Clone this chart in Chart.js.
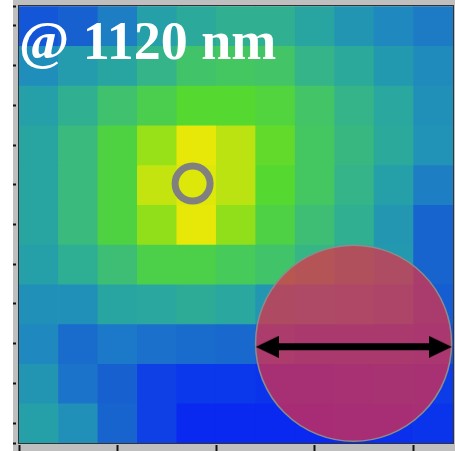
<!DOCTYPE html>
<html><head><meta charset="utf-8">
<script src="https://cdn.jsdelivr.net/npm/chart.js@4/dist/chart.umd.min.js"></script>
<style>
html,body{margin:0;padding:0;background:#fff;}
#wrap{position:absolute;left:13px;top:0;width:442px;height:451px;background:#bfbfbf;}
canvas{display:block;}
</style></head><body>
<div id="wrap"><canvas id="c" width="442" height="451"></canvas></div>
<script>
// ---- data ----
const columnCenters = [0.5, 1.5, 2.5, 3.5, 4.5, 5.5, 6.5, 7.5, 8.5, 9.5, 10.5];
const rowCenters    = [0.5, 1.5, 2.5, 3.5, 4.5, 5.5, 6.5, 7.5, 8.5, 9.5, 10.5];
const intensity = [
  [0.14,0.17,0.25,0.38,0.42,0.45,0.45,0.40,0.33,0.28,0.24],
  [0.30,0.36,0.40,0.47,0.55,0.58,0.56,0.47,0.42,0.35,0.29],
  [0.38,0.45,0.54,0.63,0.70,0.70,0.67,0.56,0.47,0.41,0.31],
  [0.40,0.50,0.66,0.80,1.00,0.88,0.72,0.58,0.49,0.42,0.32],
  [0.40,0.50,0.66,0.90,0.97,0.88,0.70,0.58,0.47,0.38,0.25],
  [0.40,0.50,0.66,0.79,1.00,0.79,0.65,0.52,0.45,0.34,0.18],
  [0.38,0.44,0.52,0.64,0.64,0.60,0.55,0.48,0.42,0.35,0.18],
  [0.31,0.31,0.40,0.41,0.43,0.41,0.34,0.32,0.30,0.26,0.16],
  [0.28,0.20,0.23,0.21,0.20,0.19,0.17,0.15,0.14,0.14,0.12],
  [0.33,0.22,0.17,0.08,0.06,0.06,0.05,0.05,0.07,0.08,0.07],
  [0.38,0.31,0.18,0.08,0.02,0.02,0.02,0.02,0.03,0.04,0.05]
];
const xTickValues = [0, 2.5, 5, 7.5, 10];
const yTickValues = [0, 0.5, 1.5, 2.5, 3.5, 4.5, 5.5, 6.5, 7.5, 8.5, 9.5, 10.5, 11];
const focusPoint  = [{x: 4.4, y: 4.47}];
const spotCenter  = [{x: 8.48, y: 8.49}];
const arrowTips   = [{x: 6.0, y: 8.58}, {x: 10.97, y: 8.58}];
const arrowShaft  = [{x: 6.4, y: 8.58}, {x: 10.57, y: 8.58}];
const labelText   = '@ 1120 nm';

// ---- colormap ----
const cmap = [
  [0.00, [8,34,242]], [0.05, [10,52,236]], [0.10, [16,72,226]], [0.17, [22,96,208]],
  [0.23, [28,120,200]], [0.30, [32,142,186]], [0.38, [37,160,168]], [0.45, [48,176,144]],
  [0.52, [62,190,116]], [0.60, [70,202,90]], [0.70, [85,216,48]], [0.80, [152,224,24]],
  [0.90, [196,228,16]], [1.00, [232,232,8]]
];
function colorFor(v) {
  for (let i = 1; i < cmap.length; i++) {
    if (v <= cmap[i][0]) {
      const [a, ca] = cmap[i-1], [b, cb] = cmap[i];
      const t = (v - a) / (b - a);
      const c = ca.map((k, j) => Math.round(k + (cb[j] - k) * t));
      return `rgb(${c[0]},${c[1]},${c[2]})`;
    }
  }
  const c = cmap[cmap.length-1][1];
  return `rgb(${c[0]},${c[1]},${c[2]})`;
}

function headCanvas(dir) {
  const cv = document.createElement('canvas');
  cv.width = 46; cv.height = 22;
  const g = cv.getContext('2d');
  g.fillStyle = '#000';
  g.beginPath();
  if (dir > 0) { g.moveTo(0, 0); g.lineTo(23, 11); g.lineTo(0, 22); }
  else { g.moveTo(46, 0); g.lineTo(23, 11); g.lineTo(46, 22); }
  g.closePath(); g.fill();
  return cv;
}

const heatSets = rowCenters.map((yc, r) => ({
  type: 'bar',
  data: columnCenters.map(xc => ({x: xc, y: [yc - 0.5, yc + 0.5]})),
  backgroundColor: intensity[r].map(colorFor),
  borderWidth: 0,
  grouped: false,
  barPercentage: 1,
  categoryPercentage: 1,
  order: 10
}));

const framePlugin = {
  id: 'frame',
  afterDatasetsDraw(chart) {
    const {ctx, chartArea: a} = chart;
    ctx.save();
    ctx.font = 'bold 54px "Liberation Serif", "Times New Roman", serif';
    ctx.fillStyle = '#ffffff';
    ctx.textBaseline = 'alphabetic';
    ctx.fillText(labelText, a.left, a.top + 53);
    ctx.strokeStyle = '#333';
    ctx.lineWidth = 1;
    ctx.strokeRect(a.left - 0.5, a.top - 0.5, a.right - a.left + 1, a.bottom - a.top + 1);
    ctx.restore();
  }
};

new Chart(document.getElementById('c'), {
  type: 'bar',
  data: {
    datasets: [
      ...heatSets,
      {type: 'scatter', data: spotCenter, pointRadius: 98, pointStyle: 'circle',
       backgroundColor: 'rgba(229,46,69,0.72)', borderColor: '#8c8c8c', borderWidth: 1.5, order: 3},
      {type: 'scatter', data: focusPoint, pointRadius: 17.5, pointStyle: 'circle',
       backgroundColor: 'rgba(0,0,0,0)', borderColor: '#808080', borderWidth: 7, order: 2},
      {type: 'line', data: arrowShaft, borderColor: '#000', borderWidth: 7, pointRadius: 0,
       borderCapStyle: 'butt', order: 1},
      {type: 'line', data: arrowTips, showLine: false, pointRadius: 1,
       pointStyle: [headCanvas(-1), headCanvas(1)], order: 0}
    ]
  },
  options: {
    responsive: false,
    animation: false,
    events: [],
    layout: {autoPadding: false, padding: {top: 6, right: 2, left: 0, bottom: 0}},
    plugins: {legend: {display: false}, tooltip: {enabled: false}},
    scales: {
      x: {
        type: 'linear', min: 0, max: 11, offset: false,
        afterBuildTicks: s => { s.ticks = xTickValues.map(v => ({value: v})); },
        ticks: {display: false},
        border: {display: false},
        grid: {offset: false, drawOnChartArea: false, drawTicks: true, tickLength: 8,
               tickColor: '#111', tickWidth: 2, tickBorderDash: [6, 2], tickBorderDashOffset: 6}
      },
      y: {
        type: 'linear', min: 0, max: 11, reverse: true,
        afterBuildTicks: s => { s.ticks = yTickValues.map(v => ({value: v})); },
        ticks: {display: false},
        border: {display: false},
        grid: {drawOnChartArea: false, drawTicks: true, tickLength: 6,
               tickColor: '#111', tickWidth: 2, tickBorderDash: [3, 3]}
      }
    }
  },
  plugins: [framePlugin]
});
</script>
</body></html>
